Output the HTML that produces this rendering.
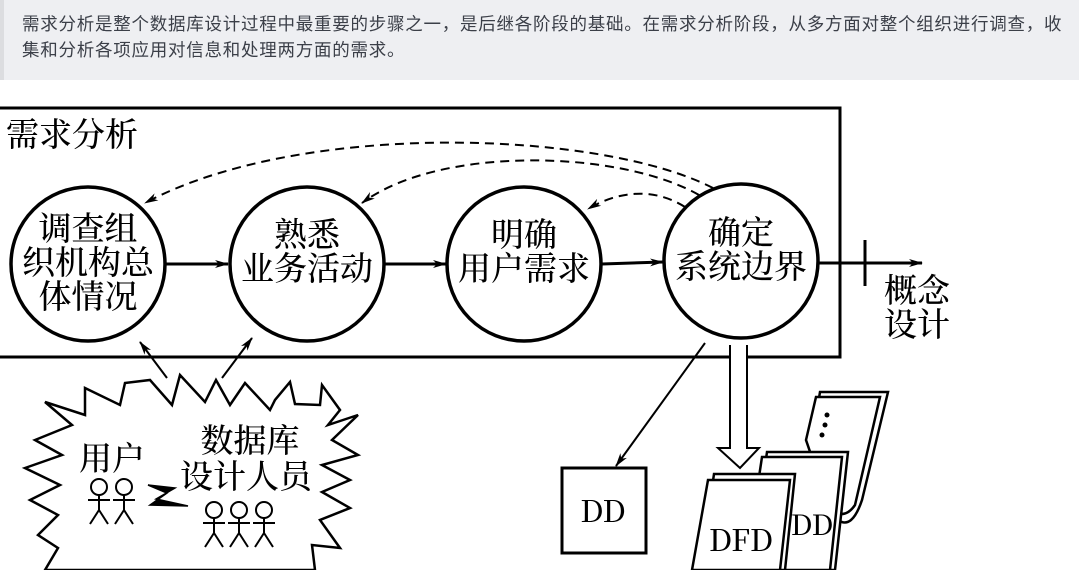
<!DOCTYPE html>
<html><head><meta charset="utf-8"><style>
body{margin:0;width:1079px;height:570px;overflow:hidden;background:#fff;position:relative}
.ban{position:absolute;left:0;top:0;width:1079px;height:80px;background:#eeeff2;border-left:4px solid #dcdde0;box-sizing:border-box}
.ban p{margin:0;position:absolute;left:18px;top:11px;width:1060px;white-space:nowrap;font:17.5px/26px "Noto Sans CJK SC",sans-serif;letter-spacing:0.75px;color:#3b3f48}
svg{position:absolute;left:0;top:0}
text{font-family:"Noto Serif CJK SC","Noto Sans CJK SC",serif;fill:#000;font-weight:500}
</style></head><body>
<div class="ban"><p>需求分析是整个数据库设计过程中最重要的步骤之一，是后继各阶段的基础。在需求分析阶段，从多方面对整个组织进行调查，收<br>集和分析各项应用对信息和处理两方面的需求。</p></div>
<svg width="1079" height="570" viewBox="0 0 1079 570">
<defs>
<marker id="a" markerWidth="14" markerHeight="10" refX="13" refY="5" orient="auto" markerUnits="userSpaceOnUse"><path d="M0,1 L14,5 L0,9 L4,5z" fill="#000"/></marker>
</defs>
<g stroke="#000" fill="none">
<path d="M-5,108 H840 V357 H-5" stroke-width="3"/>
<circle cx="88" cy="264" r="77" stroke-width="3.5" fill="#fff"/>
<circle cx="307" cy="264" r="77" stroke-width="3.5" fill="#fff"/>
<circle cx="524" cy="264" r="77" stroke-width="3.5" fill="#fff"/>
<circle cx="741" cy="261" r="77" stroke-width="3.5" fill="#fff"/>
<g stroke-width="3">
<line x1="166" y1="264" x2="228" y2="264" marker-end="url(#a)"/>
<line x1="385" y1="264" x2="446" y2="264" marker-end="url(#a)"/>
<line x1="602" y1="264" x2="663" y2="262" marker-end="url(#a)"/>
<line x1="819" y1="263" x2="922" y2="263" marker-end="url(#a)"/>
<line x1="865" y1="240" x2="865" y2="286"/>
</g>
<g stroke-width="2" stroke-dasharray="9,6">
<path d="M713,188 C600,130 300,120 145,203" marker-end="url(#a)"/>
<path d="M699,195 C620,150 440,145 362,203" marker-end="url(#a)"/>
<path d="M685,207 C655,188 620,190 588,209" marker-end="url(#a)"/>
</g>
<g stroke-width="2">
<line x1="167" y1="378" x2="140" y2="342" marker-end="url(#a)"/>
<line x1="222" y1="378" x2="252" y2="338" marker-end="url(#a)"/>
<line x1="705" y1="343" x2="616" y2="466" marker-end="url(#a)"/>
</g>
<path d="M730,345 V448 H718 L740,468 L759,448 H747 V345" stroke-width="2" fill="#fff"/>
<rect x="562" y="468" width="84" height="85" stroke-width="3"/>
<polygon points="150,380 172,405 180,375 205,402 216,380 230,405 245,383 270,410 275,400 290,382 295,404 320,405 322,385 340,410 328,425 358,415 332,440 358,455 322,465 350,480 322,492 350,508 320,520 340,548 312,545 315,570 45,570 58,548 38,535 58,515 30,500 60,485 25,468 62,455 35,440 72,425 45,402 85,415 85,388 120,405 125,383" stroke-width="2.5" fill="#fff"/>
<g stroke-width="2.5" fill="#fff">
<path d="M820,392 L888,392 L862,500 Q852,530 838,520 L812,440 Z"/>
<path d="M816,397 L880,397 L855,505 Q845,520 830,510 L806,440 Z"/>
<path d="M767,452 L848,452 L835,570 L750,570 Z"/>
<path d="M762,457 L842,457 L830,570 L745,570 Z"/>
<path d="M714,474 L795,474 L785,570 L700,570 Z"/>
<path d="M708,480 L790,480 L780,570 L692,570 Z"/>
</g>
<g fill="#000" stroke="none"><circle cx="827" cy="415" r="2.5"/><circle cx="825" cy="425" r="2.5"/><circle cx="822" cy="435" r="2.5"/></g>
<path d="M148,485 L175,488 L156,499 L188,506 L150,505 L167,493Z" fill="#000" stroke-width="1.5"/>
<g stroke-width="2">
<circle cx="99" cy="487" r="8"/><path d="M99,495V510M88,500H110M99,510L90,524M99,510L108,524"/>
<circle cx="124" cy="487" r="8"/><path d="M124,495V510M113,500H135M124,510L115,524M124,510L133,524"/>
<circle cx="214" cy="510" r="8"/><path d="M214,518V533M203,523H225M214,533L205,547M214,533L223,547"/>
<circle cx="239" cy="510" r="8"/><path d="M239,518V533M228,523H250M239,533L230,547M239,533L248,547"/>
<circle cx="264" cy="510" r="8"/><path d="M264,518V533M253,523H275M264,533L255,547M264,533L273,547"/>
</g>
</g>
<text x="6" y="146" font-size="33">需求分析</text>
<g font-size="33" text-anchor="middle">
<text x="88" y="240">调查组</text><text x="88" y="274">织机构总</text><text x="88" y="308">体情况</text>
<text x="307" y="246">熟悉</text><text x="307" y="280">业务活动</text>
<text x="524" y="246">明确</text><text x="524" y="280">用户需求</text>
<text x="741" y="244">确定</text><text x="741" y="278">系统边界</text>
<text x="917" y="302">概念</text><text x="917" y="336">设计</text>
<text x="112" y="470">用户</text>
<text x="250" y="452">数据库</text><text x="246" y="488">设计人员</text>
</g>
<g font-size="30" text-anchor="middle" style="font-family:'Liberation Serif',serif;font-weight:400"><text x="603" y="522">DD</text><text x="741" y="551">DFD</text><text x="812" y="535" font-size="28">DD</text></g>
</svg>
</body></html>
